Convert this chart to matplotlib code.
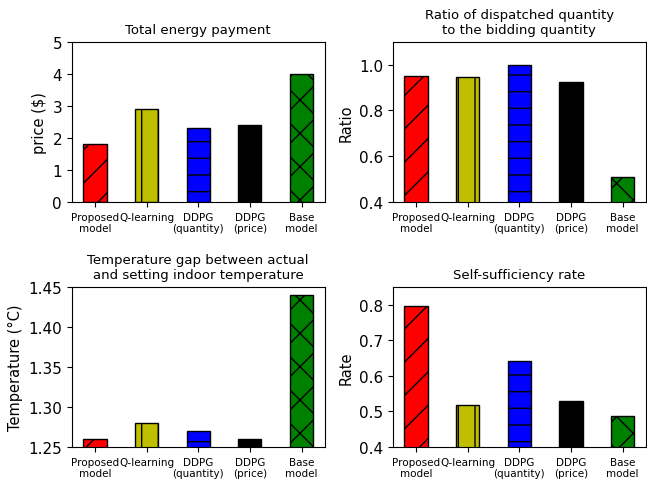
import numpy as np
import matplotlib
matplotlib.use("Agg")
import matplotlib.pyplot as plt

models = ["Proposed\nmodel", "Q-learning", "DDPG\n(quantity)", "DDPG\n(price)", "Base\nmodel"]
colors = ["red", "y", "blue", "black", "green"]
hatches = ["/", "|", "-", "\\", "x"]

payment = [1.8, 2.9, 2.3, 2.4, 4.0]
ratio = [0.95, 0.945, 1.0, 0.925, 0.51]
temp_gap = [1.26, 1.28, 1.27, 1.26, 1.44]
self_suff = [0.795, 0.518, 0.642, 0.53, 0.487]

panels = [
    (payment, "Total energy payment", "price ($)", (0, 5)),
    (ratio, "Ratio of dispatched quantity\nto the bidding quantity", "Ratio", (0.4, 1.1)),
    (temp_gap, "Temperature gap between actual\nand setting indoor temperature", "Temperature (\u00b0C)", (1.25, 1.45)),
    (self_suff, "Self-sufficiency rate", "Rate", (0.4, 0.85)),
]

fig, axes = plt.subplots(2, 2, figsize=(6.47, 4.81), dpi=100)
x = np.arange(len(models))
for ax, (vals, title, ylab, ylim) in zip(axes.flat, panels):
    ax.bar(x, vals, width=0.45, color=colors, edgecolor="black", hatch=hatches, linewidth=1)
    ax.set_title(title, fontsize=9.5)
    ax.set_ylabel(ylab, fontsize=10.5)
    ax.set_xticks(x)
    ax.set_xticklabels(models, fontsize=7.5)
    ax.tick_params(axis="y", labelsize=11)
    ax.set_ylim(*ylim)

axes[0, 0].set_yticks([0, 1, 2, 3, 4, 5])
axes[0, 1].set_yticks([0.4, 0.6, 0.8, 1.0])
axes[1, 0].set_yticks([1.25, 1.30, 1.35, 1.40, 1.45])
axes[1, 1].set_yticks([0.4, 0.5, 0.6, 0.7, 0.8])

plt.subplots_adjust(left=0.111, right=0.998, bottom=0.069, top=0.911, wspace=0.27, hspace=0.53)
plt.savefig("out.png", dpi=100)
